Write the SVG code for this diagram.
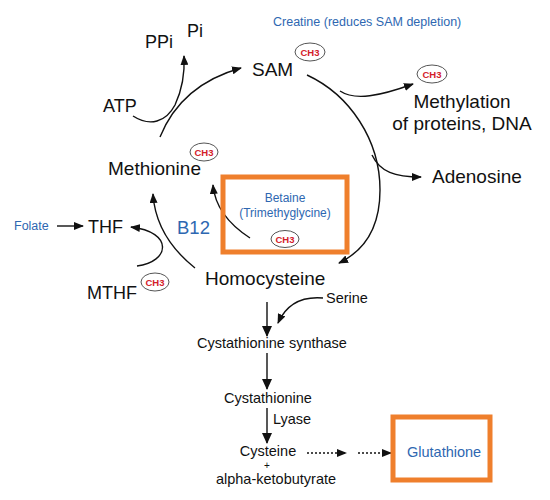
<svg xmlns="http://www.w3.org/2000/svg" width="550" height="500" viewBox="0 0 550 500">
<defs>
<style>
text{font-family:"Liberation Sans",Arial,sans-serif;fill:#111}
.big{font-size:19px}
.mid{font-size:18px}
.sm{font-size:14.5px}
.blue{fill:#2e67b1}
.ch3 ellipse{fill:#fff;stroke:#555;stroke-width:1}
.ch3 text{font-size:9.5px;font-weight:bold;fill:#d3202b;text-anchor:middle}
.box{fill:none;stroke:#ef7f2c;stroke-width:5}
.conn path{fill:none;stroke:#111;stroke-width:1.4}
.dash{stroke-dasharray:2,2}
</style>
<marker id="ah" markerWidth="10" markerHeight="8" refX="9" refY="4" orient="auto" markerUnits="userSpaceOnUse">
<path d="M0,0 L10,4 L0,8 Z" fill="#111"/>
</marker>
<marker id="ahb" markerWidth="11" markerHeight="10" refX="10" refY="5" orient="auto" markerUnits="userSpaceOnUse">
<path d="M0,0 L11,5 L0,10 Z" fill="#111"/>
</marker>
</defs>
<rect width="550" height="500" fill="#fff"/>

<g id="connectors" class="conn">
<path d="M160,137 C175,100 205,78 241,68" marker-end="url(#ah)"/>
<path d="M133,116 C150,127 166,122 175,105 C182,90 185,75 184,56" marker-end="url(#ah)"/>
<path d="M307,75 C350,95 380,140 380,190 C380,225 366,250 339,263" marker-end="url(#ah)"/>
<path d="M340,91 C355,101 380,96 413,84" marker-end="url(#ah)"/>
<path d="M372,155 C380,172 395,177 421,177" marker-end="url(#ah)"/>
<path d="M195,268 C170,248 155,225 153,194" marker-end="url(#ah)"/>
<path d="M250,238 C230,225 215,208 213,185" marker-end="url(#ah)"/>
<path d="M137,266 C170,262 174,232 131,227" marker-end="url(#ah)"/>
<path d="M57,226 L83,226" marker-end="url(#ah)"/>
<path d="M323,298 C300,296 286,305 278,323" marker-end="url(#ah)"/>
<path d="M267,302 L267,336" marker-end="url(#ahb)"/>
<path d="M267,353 L267,389" marker-end="url(#ahb)"/>
<path d="M267,408 L267,443" marker-end="url(#ahb)"/>
<path class="dash" d="M307,453 L346,453" marker-end="url(#ah)"/>
<path class="dash" d="M358,453 L391,453" marker-end="url(#ah)"/>
</g>

<g id="sam"><text class="big" x="252" y="76">SAM</text>
<g class="ch3"><ellipse cx="310" cy="52" rx="15" ry="9"/><text x="310" y="55.5">CH3</text></g></g>
<g id="creatine"><text class="blue" x="273" y="26" font-size="12.5px">Creatine (reduces SAM depletion)</text></g>
<g id="ppi"><text class="mid" x="145" y="48">PPi</text></g>
<g id="pi"><text class="mid" x="187" y="37">Pi</text></g>
<g id="atp"><text class="mid" x="103" y="112">ATP</text></g>
<g id="methylation">
<g class="ch3"><ellipse cx="432" cy="74" rx="15" ry="9"/><text x="432" y="77.5">CH3</text></g>
<text class="big" x="462" y="108" text-anchor="middle">Methylation</text>
<text class="big" x="462" y="130" text-anchor="middle">of proteins, DNA</text></g>
<g id="adenosine"><text class="big" x="432" y="183">Adenosine</text></g>
<g id="methionine"><text class="big" x="108" y="175">Methionine</text>
<g class="ch3"><ellipse cx="204" cy="152" rx="14" ry="9"/><text x="204" y="155.5">CH3</text></g></g>
<g id="folate"><text class="blue" x="14" y="230" font-size="12.5px">Folate</text></g>
<g id="thf"><text class="mid" x="88" y="233">THF</text></g>
<g id="b12"><text class="blue" x="177" y="234" font-size="18.5px">B12</text></g>
<g id="mthf"><text class="mid" x="87" y="299">MTHF</text>
<g class="ch3"><ellipse cx="155" cy="282" rx="14" ry="9"/><text x="155" y="285.5">CH3</text></g></g>
<g id="betaine">
<rect class="box" x="223" y="177" width="124" height="75"/>
<text class="blue" x="285" y="202" font-size="12px" text-anchor="middle">Betaine</text>
<text class="blue" x="285" y="217" font-size="12px" text-anchor="middle">(Trimethyglycine)</text>
<g class="ch3"><ellipse cx="285" cy="239" rx="14" ry="8.5"/><text x="285" y="242.5">CH3</text></g></g>
<g id="homocysteine"><text class="big" x="205" y="285">Homocysteine</text></g>
<g id="serine"><text class="sm" x="326" y="303">Serine</text></g>
<g id="cbs"><text class="sm" x="197" y="348">Cystathionine synthase</text></g>
<g id="cystathionine"><text class="sm" x="224" y="403">Cystathionine</text></g>
<g id="lyase"><text class="sm" x="273" y="424">Lyase</text></g>
<g id="cysteine"><text class="sm" x="268" y="456" text-anchor="middle">Cysteine</text>
<text x="267" y="469" font-size="10px" text-anchor="middle">+</text>
<text class="sm" x="276" y="484" text-anchor="middle">alpha-ketobutyrate</text></g>
<g id="glutathione">
<rect class="box" x="393" y="417" width="97" height="63"/>
<text class="blue" x="407" y="457" font-size="14.5px">Glutathione</text></g>
</svg>
